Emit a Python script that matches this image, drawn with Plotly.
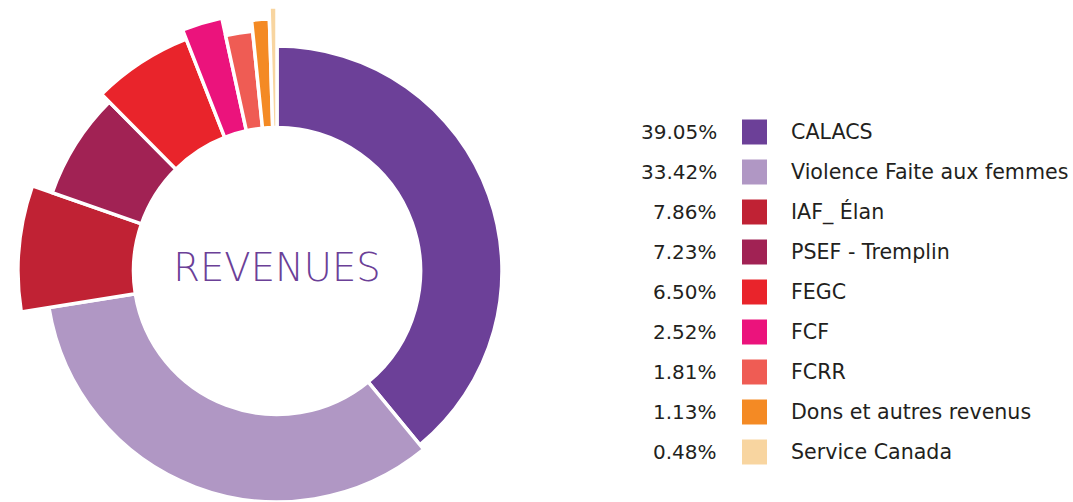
import plotly.graph_objects as go

categories = ["CALACS", "Violence Faite aux femmes", "IAF_ Élan", "PSEF - Tremplin",
              "FEGC", "FCF", "FCRR", "Dons et autres revenus", "Service Canada"]
percent_values = [39.05, 33.42, 7.86, 7.23, 6.50, 2.52, 1.81, 1.13, 0.48]
percent_labels = ["39.05%", "33.42%", "7.86%", "7.23%", "6.50%", "2.52%", "1.81%", "1.13%", "0.48%"]

# styling
colors = ["#6c4098", "#b097c4", "#c02234", "#a12254", "#e9242b",
          "#eb137c", "#ef5c54", "#f48a24", "#f8d5a0"]
outer_radius = [225, 231, 259, 238, 249, 259, 241, 252, 264]
inner_radius = 143.5

W, H = 1073, 540          # figure taller than window so the longest slices fit; window crops at 502
cx, cy, R = 277, 271, 268

# angular layout derived from data
widths = [v * 3.6 for v in percent_values]
thetas = []
acc = 0.0
for w in widths:
    thetas.append(acc + w / 2)
    acc += w

fig = go.Figure()
fig.add_trace(go.Barpolar(
    r=[o - inner_radius for o in outer_radius],
    base=[inner_radius] * len(categories),
    theta=thetas,
    width=widths,
    marker=dict(color=colors, line=dict(color="white", width=3.5)),
    hoverinfo="skip",
    showlegend=False,
))
fig.add_trace(go.Scatterpolar(
    r=[0], theta=[0], mode="text", text=["REVENUES"],
    textfont=dict(family="DejaVu Sans", size=38.5, color="#6b4097", weight=300),
    cliponaxis=False, hoverinfo="skip", showlegend=False,
))

# legend markers on a cartesian subplot
idx = list(range(len(categories)))
row0, row_gap = 132, 40
fig.add_trace(go.Scatter(
    x=[754.5] * len(categories), y=idx, mode="markers",
    marker=dict(symbol="square", size=25, color=colors, line=dict(width=0)),
    hoverinfo="skip", showlegend=False, cliponaxis=False,
))
for i in idx:
    fig.add_annotation(x=719, y=i, xref="x", yref="y", text=percent_labels[i],
                       showarrow=False, xanchor="right", yanchor="middle",
                       font=dict(family="DejaVu Sans", size=20, color="#231f20"))
    fig.add_annotation(x=789, y=i, xref="x", yref="y", text=categories[i],
                       showarrow=False, xanchor="left", yanchor="middle",
                       font=dict(family="DejaVu Sans", size=20.6, color="#231f20"))

fig.update_layout(
    width=W, height=H,
    margin=dict(l=0, r=0, t=0, b=0),
    paper_bgcolor="white",
    plot_bgcolor="rgba(0,0,0,0)",
    xaxis=dict(range=[0, W], domain=[0, 1], visible=False, fixedrange=True),
    yaxis=dict(range=[(H - row0) / row_gap, -row0 / row_gap], domain=[0, 1],
               visible=False, fixedrange=True),
    polar=dict(
        domain=dict(x=[(cx - R) / W, (cx + R) / W], y=[(H - cy - R) / H, (H - cy + R) / H]),
        bgcolor="rgba(0,0,0,0)",
        hole=0,
        radialaxis=dict(range=[0, R], visible=False, showgrid=False),
        angularaxis=dict(rotation=90, direction="clockwise", visible=False, showgrid=False),
    ),
    showlegend=False,
)

fig.write_html("out.html", config={"displayModeBar": False},
               post_script="document.body.style.margin='0';document.body.style.overflow='hidden';")
